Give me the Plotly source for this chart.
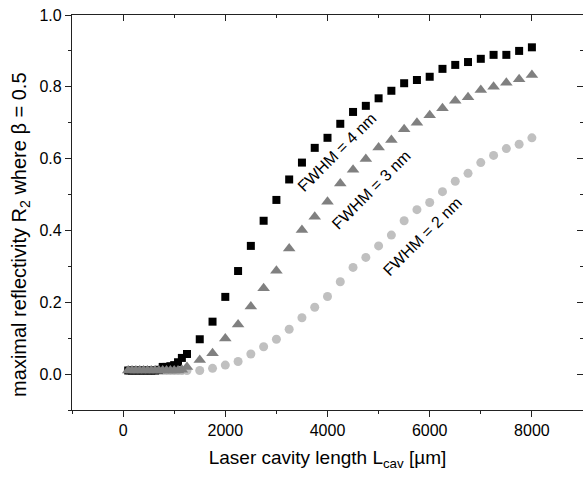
import plotly.graph_objects as go

# Cavity length grid (µm): fine steps at short lengths, then 250 µm steps
x_fine = [100, 175, 250, 325, 400, 475, 550, 625, 700, 775, 850, 925, 1000, 1075, 1150]
x_coarse = [1250, 1500, 1750, 2000, 2250, 2500, 2750, 3000, 3250, 3500, 3750,
            4000, 4250, 4500, 4750, 5000, 5250, 5500, 5750, 6000, 6250, 6500,
            6750, 7000, 7250, 7500, 7750, 8000]
x_all = x_fine + x_coarse

# Maximal reflectivity R2 (beta = 0.5) for three filter widths
r_fwhm4 = [0.01, 0.01, 0.01, 0.01, 0.01, 0.01, 0.01, 0.01, 0.012, 0.02, 0.02, 0.022,
           0.025, 0.033, 0.045,
           0.056, 0.097, 0.146, 0.215, 0.287, 0.357, 0.427, 0.485, 0.542, 0.589,
           0.630, 0.658, 0.697, 0.730, 0.747, 0.768, 0.789, 0.810, 0.819, 0.828,
           0.850, 0.861, 0.869, 0.878, 0.889, 0.889, 0.900, 0.910]
r_fwhm3 = [0.01, 0.01, 0.01, 0.01, 0.01, 0.01, 0.01, 0.01, 0.01, 0.01, 0.01, 0.01,
           0.01, 0.01, 0.012,
           0.020, 0.039, 0.058, 0.099, 0.138, 0.188, 0.239, 0.288, 0.350, 0.401,
           0.438, 0.480, 0.531, 0.569, 0.599, 0.631, 0.652, 0.682, 0.700, 0.721,
           0.740, 0.761, 0.771, 0.791, 0.800, 0.811, 0.821, 0.833]
r_fwhm2 = [0.01, 0.01, 0.01, 0.01, 0.01, 0.01, 0.01, 0.01, 0.01, 0.01, 0.01, 0.01,
           0.01, 0.01, 0.01,
           0.01, 0.01, 0.016, 0.025, 0.035, 0.056, 0.076, 0.097, 0.125, 0.157,
           0.186, 0.216, 0.257, 0.297, 0.325, 0.357, 0.387, 0.427, 0.458, 0.478,
           0.508, 0.537, 0.559, 0.589, 0.609, 0.628, 0.640, 0.658]

labels = ["FWHM = 4 nm", "FWHM = 3 nm", "FWHM = 2 nm"]
label_x = [4180, 4860, 5860]
label_y = [0.618, 0.515, 0.382]

FONT = "Arial, Liberation Sans, sans-serif"
AX = "#222222"

fig = go.Figure()
fig.add_trace(go.Scatter(x=x_all, y=r_fwhm2, mode="markers", name="2 nm",
                         marker=dict(symbol="circle", size=9, color="#c0c0c0")))
fig.add_trace(go.Scatter(x=x_all, y=r_fwhm4, mode="markers", name="4 nm",
                         marker=dict(symbol="square", size=8, color="#000000")))
fig.add_trace(go.Scatter(x=x_all, y=r_fwhm3, mode="markers", name="3 nm",
                         marker=dict(symbol="triangle-up", size=11, color="#808080")))

for txt, tx, ty in zip(labels, label_x, label_y):
    fig.add_annotation(x=tx, y=ty, text=txt, showarrow=False, textangle=-45,
                       font=dict(family=FONT, size=16, color="#000000"))

# y-axis title placed as a rotated annotation beside the tick labels
fig.add_annotation(xref="paper", yref="paper", x=-0.102, y=0.443,
                   xanchor="center", yanchor="middle", textangle=-90,
                   text="maximal reflectivity R<sub>2</sub> where β = 0.5",
                   showarrow=False, font=dict(family=FONT, size=20, color="#000000"))

xr = [-1000, 9000]
yr = [-0.1, 1.0]

fig.update_layout(
    width=583, height=477,
    margin=dict(l=72, r=0, t=15, b=67),
    paper_bgcolor="white", plot_bgcolor="white",
    showlegend=False,
    font=dict(family=FONT, size=16, color="#000000"),
    xaxis=dict(range=xr, tickvals=[0, 2000, 4000, 6000, 8000],
               ticks="outside", ticklen=6, tickwidth=1.2, tickcolor=AX,
               minor=dict(tickvals=[-1000, 1000, 3000, 5000, 7000, 9000],
                          ticks="outside", ticklen=3, tickcolor=AX),
               showline=True, linecolor=AX, linewidth=1.2,
               showgrid=False, zeroline=False,
               tickfont=dict(size=16),
               title=dict(text="Laser cavity length L<sub>cav</sub> [µm]",
                          font=dict(size=19), standoff=12)),
    yaxis=dict(range=yr, tickvals=[0.0, 0.2, 0.4, 0.6, 0.8, 1.0],
               ticktext=["0.0", "0.2", "0.4", "0.6", "0.8", "1.0"],
               ticks="outside", ticklen=6, tickwidth=1.2, tickcolor=AX,
               minor=dict(tickvals=[-0.1, 0.1, 0.3, 0.5, 0.7, 0.9],
                          ticks="outside", ticklen=3, tickcolor=AX),
               showline=True, linecolor=AX, linewidth=1.2,
               showgrid=False, zeroline=False,
               tickfont=dict(size=16)),
    xaxis2=dict(range=xr, overlaying="x", side="top", showticklabels=False,
                tickvals=[0, 2000, 4000, 6000, 8000],
                ticks="inside", ticklen=6, tickwidth=1.2, tickcolor=AX,
                minor=dict(tickvals=[-1000, 1000, 3000, 5000, 7000, 9000],
                           ticks="inside", ticklen=3, tickcolor=AX),
                showline=True, linecolor=AX, linewidth=1.2,
                showgrid=False, zeroline=False),
    yaxis2=dict(range=yr, overlaying="y", side="right", showticklabels=False,
                tickvals=[0.0, 0.2, 0.4, 0.6, 0.8, 1.0],
                ticks="inside", ticklen=6, tickwidth=1.2, tickcolor=AX,
                minor=dict(tickvals=[-0.1, 0.1, 0.3, 0.5, 0.7, 0.9],
                           ticks="inside", ticklen=3, tickcolor=AX),
                showline=True, linecolor=AX, linewidth=1.2,
                showgrid=False, zeroline=False),
)

# invisible trace so the top/right frame axes are drawn
fig.add_trace(go.Scatter(x=[None], y=[None], xaxis="x2", yaxis="y2",
                         showlegend=False, hoverinfo="skip"))

fig.write_html("out.html")
